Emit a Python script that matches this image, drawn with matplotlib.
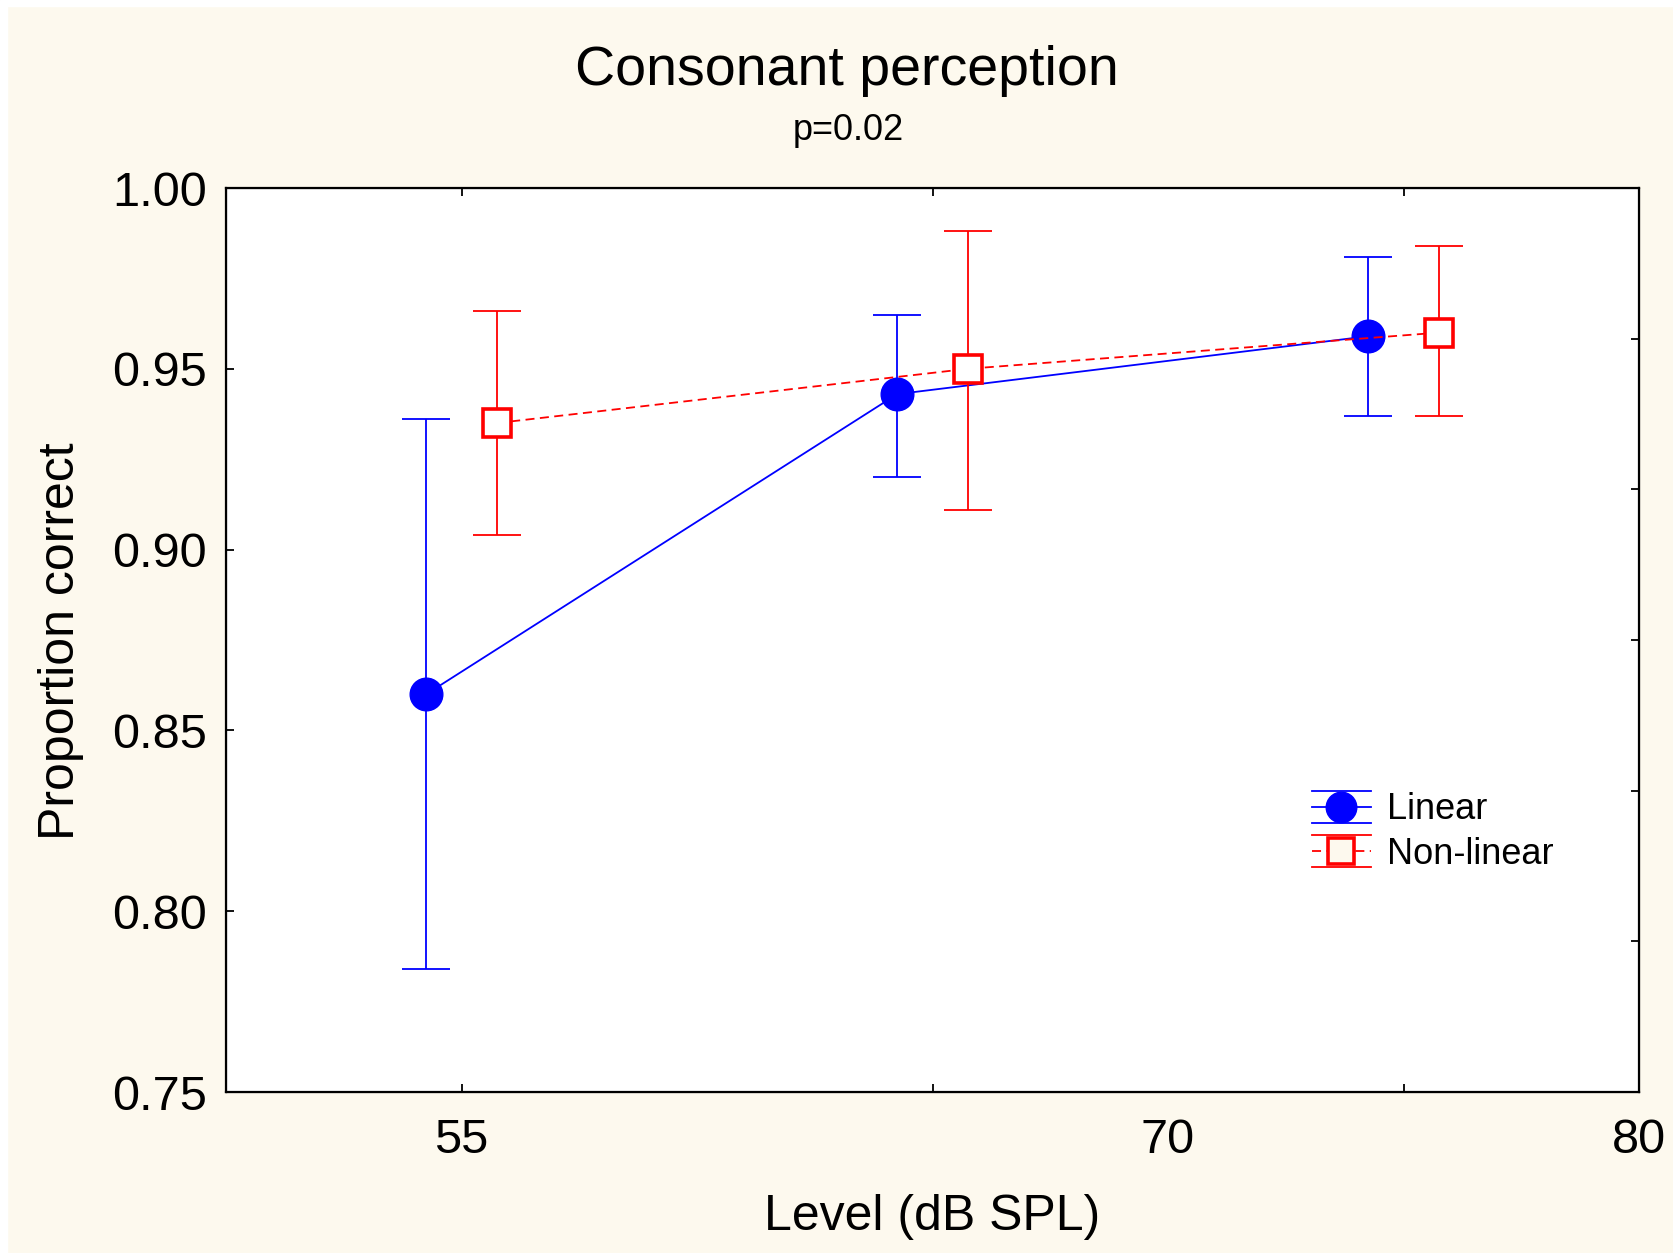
import numpy as np
import matplotlib
matplotlib.use("Agg")
import matplotlib.pyplot as plt
from matplotlib.lines import Line2D
from matplotlib.patches import Rectangle
from matplotlib.legend_handler import HandlerBase

plt.rcParams['font.family'] = ['Liberation Sans', 'DejaVu Sans']

# data
levels = [55, 65, 75]
linear_mean = [0.860, 0.943, 0.959]
linear_lo = [0.784, 0.920, 0.937]
linear_hi = [0.936, 0.965, 0.981]
nonlin_mean = [0.935, 0.950, 0.960]
nonlin_lo = [0.904, 0.911, 0.937]
nonlin_hi = [0.966, 0.988, 0.984]
xtick_labels = ['55', '70', '80']
xtick_label_pos = [55, 70, 80]

CREAM = '#fdf9ee'
BLUE = '#0000ff'
RED = '#ff0000'


class StatHandler(HandlerBase):
    # statistica style legend key: caps as horizontal lines above/below marker
    def create_artists(self, legend, orig, xd, yd, w, h, fs, trans):
        yc = h / 2 - yd
        x0, x1 = -xd, -xd + w
        c = orig.get_color()
        off = 11.5
        arts = []
        for y in (yc - off, yc + off):
            arts.append(Line2D([x0, x1], [y, y], color=c, lw=1.3, transform=trans))
        mid = Line2D([x0, x1], [yc, yc], color=c, lw=1.3,
                     linestyle=orig.get_linestyle(), transform=trans)
        if orig.get_linestyle() != '-':
            mid.set_dashes((5, 3))
        arts.append(mid)
        arts.append(Line2D([(x0 + x1) / 2], [yc], marker=orig.get_marker(),
                           ms=orig.get_markersize(), mfc=orig.get_markerfacecolor(),
                           mec=c, mew=orig.get_markeredgewidth(), ls='none',
                           transform=trans))
        return arts


fig = plt.figure(figsize=(16.73, 12.53), dpi=100, facecolor=CREAM)
# thin white border of the original export
fig.patches.append(Rectangle((0, 1 - 6 / 1253), 1, 6 / 1253, transform=fig.transFigure,
                             color='white', zorder=-1))
fig.patches.append(Rectangle((0, 0), 7 / 1673, 1, transform=fig.transFigure,
                             color='white', zorder=-1))

ax = fig.add_axes([226 / 1673, 1 - 1092 / 1253, (1639 - 226) / 1673, (1092 - 188) / 1253])
ax.set_facecolor('white')

x = np.array(levels, dtype=float)
off = 0.75
lm = np.array(linear_mean)
nm = np.array(nonlin_mean)

ax.errorbar(x - off, lm, yerr=[lm - np.array(linear_lo), np.array(linear_hi) - lm],
            color=BLUE, lw=1.3, elinewidth=1.3, capsize=17.5, capthick=1.3,
            marker='o', ms=23.5, mfc=BLUE, mec=BLUE, zorder=3)
nl = ax.errorbar(x + off, nm, yerr=[nm - np.array(nonlin_lo), np.array(nonlin_hi) - nm],
                 color=RED, lw=1.3, elinewidth=1.3, capsize=17.5, capthick=1.3,
                 marker='s', ms=20.5, mfc='white', mec=RED, mew=2.6, zorder=4)
nl.lines[0].set_dashes((5, 3))
for cap in nl.lines[1]:
    cap.set_markeredgewidth(1.3)

ax.set_xlim(50, 80)
ax.set_ylim(0.75, 1.00)
ax.xaxis.remove_overlapping_locs = False
ax.set_xticks(levels)
ax.set_xticklabels(['', '', ''])
ax.set_xticks(xtick_label_pos, minor=True)
ax.set_xticklabels(xtick_labels, minor=True)
ax.set_yticks(np.arange(0.75, 1.001, 0.05))
ax.set_yticklabels([f'{v:.2f}' for v in np.arange(0.75, 1.001, 0.05)])
ax.tick_params(axis='x', which='major', direction='in', length=6, width=1.3,
               top=True, bottom=True)
ax.tick_params(axis='x', which='minor', length=0, labelsize=35, pad=19)
ax.tick_params(axis='y', which='major', direction='in', length=6, width=1.3,
               labelsize=35, pad=14)
for s in ax.spines.values():
    s.set_linewidth(1.6)

# right-hand ticks use their own spacing
ax2 = ax.twinx()
ax2.set_ylim(0.75, 1.00)
ax2.set_yticks(np.linspace(0.75, 1.00, 7))
ax2.set_yticklabels([])
ax2.tick_params(axis='y', direction='in', length=6, width=1.3)

# legend
h_lin = Line2D([], [], color=BLUE, ls='-', marker='o', ms=22, mfc=BLUE, mew=1)
h_non = Line2D([], [], color=RED, ls='--', marker='s', ms=19, mfc=CREAM, mew=2.6)
ax2.legend([h_lin, h_non], ['Linear', 'Non-linear'],
           handler_map={Line2D: StatHandler()},
           loc='center left', bbox_to_anchor=(1312 / 1673, 1 - 832 / 1253),
           bbox_transform=fig.transFigure, frameon=False, fontsize=26,
           borderpad=0, borderaxespad=0, handlelength=1.63, handletextpad=0.45,
           labelspacing=0.25)

fig.text(0.506, 1 - 85 / 1253, 'Consonant perception', fontsize=40,
         ha='center', va='baseline')
fig.text(0.507, 1 - 140 / 1253, 'p=0.02', fontsize=26, ha='center', va='baseline')
fig.text(932 / 1673, 1 - 1230 / 1253, 'Level (dB SPL)', fontsize=36,
         ha='center', va='baseline')
fig.text(61 / 1673, 1 - 641 / 1253, 'Proportion correct', fontsize=36,
         rotation=90, ha='center', va='center')

fig.savefig('out.png', dpi=100, facecolor=CREAM)
